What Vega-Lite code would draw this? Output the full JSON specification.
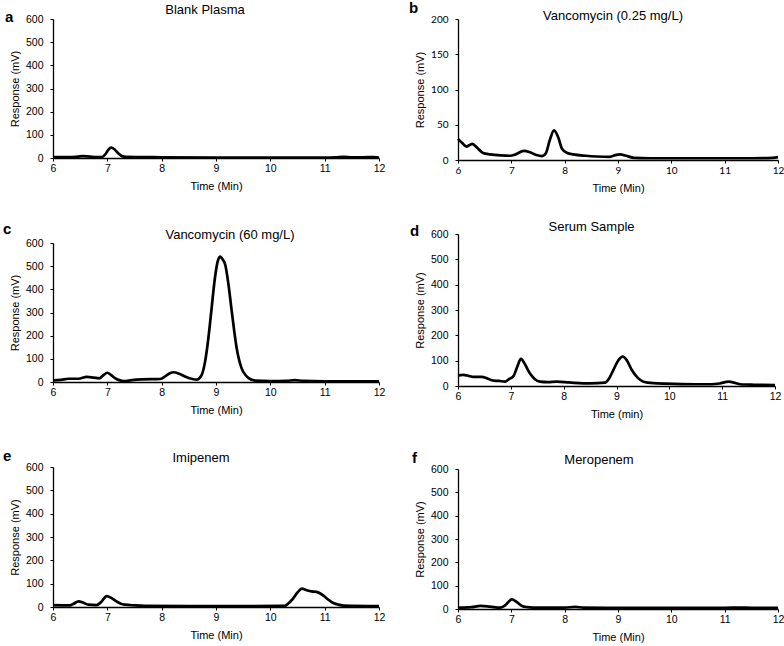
{
  "$schema": "https://vega.github.io/schema/vega-lite/v6.json",
  "padding": {"left": 3, "top": 1, "right": 0, "bottom": 0},
  "background": "white",
  "datasets": {
    "a": [{"t":6,"v":4},{"t":6.3,"v":4},{"t":6.45,"v":6},{"t":6.55,"v":8},{"t":6.68,"v":6},{"t":6.8,"v":4},{"t":6.9,"v":4},{"t":6.96,"v":15},{"t":7.02,"v":36},{"t":7.07,"v":45},{"t":7.13,"v":38},{"t":7.2,"v":20},{"t":7.27,"v":8},{"t":7.35,"v":5},{"t":7.6,"v":4},{"t":8,"v":3},{"t":9,"v":2},{"t":10,"v":2},{"t":11,"v":2},{"t":11.2,"v":3},{"t":11.35,"v":5},{"t":11.5,"v":3},{"t":11.7,"v":3},{"t":11.9,"v":4},{"t":12,"v":2}],
    "b": [{"t":6,"v":30},{"t":6.08,"v":24},{"t":6.16,"v":19},{"t":6.27,"v":23},{"t":6.35,"v":18},{"t":6.47,"v":10},{"t":6.6,"v":8},{"t":6.8,"v":6.5},{"t":6.98,"v":6},{"t":7.08,"v":8},{"t":7.23,"v":13},{"t":7.35,"v":11},{"t":7.47,"v":7},{"t":7.57,"v":5.5},{"t":7.65,"v":10},{"t":7.72,"v":28},{"t":7.8,"v":42},{"t":7.88,"v":32},{"t":7.95,"v":16},{"t":8.05,"v":10},{"t":8.16,"v":8},{"t":8.4,"v":6},{"t":8.6,"v":5},{"t":8.85,"v":4.5},{"t":8.95,"v":7},{"t":9.04,"v":8},{"t":9.15,"v":6},{"t":9.3,"v":3},{"t":9.6,"v":2.5},{"t":10,"v":2.5},{"t":10.5,"v":2.5},{"t":11,"v":2.5},{"t":11.5,"v":2.5},{"t":11.9,"v":3},{"t":12,"v":4}],
    "c": [{"t":6,"v":7},{"t":6.15,"v":9},{"t":6.28,"v":14},{"t":6.47,"v":14},{"t":6.62,"v":22},{"t":6.75,"v":19},{"t":6.85,"v":16},{"t":6.93,"v":30},{"t":7.0,"v":40},{"t":7.07,"v":30},{"t":7.14,"v":17},{"t":7.22,"v":8},{"t":7.3,"v":4},{"t":7.45,"v":8},{"t":7.63,"v":11},{"t":7.97,"v":13},{"t":8.05,"v":22},{"t":8.15,"v":38},{"t":8.22,"v":42},{"t":8.32,"v":36},{"t":8.43,"v":24},{"t":8.55,"v":14},{"t":8.65,"v":10},{"t":8.7,"v":18},{"t":8.74,"v":32},{"t":8.8,"v":89},{"t":8.86,"v":190},{"t":8.92,"v":320},{"t":8.98,"v":449},{"t":9.04,"v":528},{"t":9.08,"v":541},{"t":9.12,"v":530},{"t":9.17,"v":506},{"t":9.23,"v":420},{"t":9.29,"v":305},{"t":9.38,"v":147},{"t":9.47,"v":60},{"t":9.55,"v":28},{"t":9.6,"v":17},{"t":9.72,"v":6},{"t":10,"v":4},{"t":10.3,"v":5},{"t":10.45,"v":8},{"t":10.6,"v":5},{"t":11,"v":3},{"t":11.5,"v":3},{"t":12,"v":3}],
    "d": [{"t":6,"v":42},{"t":6.1,"v":44},{"t":6.2,"v":40},{"t":6.29,"v":36},{"t":6.45,"v":36},{"t":6.55,"v":30},{"t":6.67,"v":21},{"t":6.78,"v":20},{"t":6.89,"v":17},{"t":6.97,"v":28},{"t":7.05,"v":39},{"t":7.12,"v":75},{"t":7.19,"v":107},{"t":7.27,"v":85},{"t":7.36,"v":50},{"t":7.45,"v":28},{"t":7.55,"v":17},{"t":7.7,"v":15},{"t":7.87,"v":17},{"t":8.1,"v":14},{"t":8.5,"v":10},{"t":8.78,"v":13},{"t":8.86,"v":30},{"t":8.94,"v":63},{"t":9.03,"v":100},{"t":9.12,"v":116},{"t":9.2,"v":100},{"t":9.29,"v":63},{"t":9.4,"v":33},{"t":9.51,"v":17},{"t":9.7,"v":11},{"t":9.95,"v":9},{"t":10.5,"v":7},{"t":10.8,"v":7},{"t":10.95,"v":10},{"t":11.12,"v":17},{"t":11.25,"v":12},{"t":11.34,"v":7},{"t":11.6,"v":5},{"t":12,"v":4}],
    "e": [{"t":6,"v":8},{"t":6.31,"v":7},{"t":6.38,"v":14},{"t":6.47,"v":24},{"t":6.56,"v":18},{"t":6.65,"v":10},{"t":6.8,"v":8},{"t":6.88,"v":20},{"t":6.99,"v":47},{"t":7.08,"v":38},{"t":7.17,"v":24},{"t":7.25,"v":14},{"t":7.33,"v":10},{"t":7.5,"v":7},{"t":7.69,"v":5},{"t":8.5,"v":4},{"t":9.5,"v":4},{"t":10.27,"v":5},{"t":10.33,"v":15},{"t":10.4,"v":31},{"t":10.5,"v":62},{"t":10.58,"v":79},{"t":10.67,"v":72},{"t":10.76,"v":67},{"t":10.85,"v":65},{"t":10.92,"v":58},{"t":11.0,"v":45},{"t":11.07,"v":31},{"t":11.15,"v":18},{"t":11.25,"v":10},{"t":11.35,"v":6},{"t":11.5,"v":5},{"t":12,"v":4}],
    "f": [{"t":6,"v":6},{"t":6.25,"v":8},{"t":6.42,"v":13},{"t":6.6,"v":10},{"t":6.79,"v":6},{"t":6.88,"v":15},{"t":7.01,"v":41},{"t":7.1,"v":30},{"t":7.2,"v":13},{"t":7.3,"v":8},{"t":7.39,"v":6},{"t":8.0,"v":6},{"t":8.2,"v":9},{"t":8.35,"v":6},{"t":9,"v":5},{"t":10,"v":5},{"t":11,"v":5},{"t":11.3,"v":6},{"t":11.5,"v":5},{"t":12,"v":5}]
  },
  "hconcat": [
    {
      "bounds": "flush",
      "spacing": 85,
      "vconcat": [
        {
          "width": 326, "height": 139,
          "title": {"text": "Blank Plasma", "offset": -7, "dx": -11},
          "layer": [
            {"data": {"name": "a"}, "mark": {"type": "line", "color": "black", "strokeWidth": 2.7, "interpolate": "monotone"},
             "encoding": {
               "x": {"field": "t", "type": "quantitative", "scale": {"domain": [6, 12], "nice": false}, "axis": {"values": [6,7,8,9,10,11,12], "format": "d", "title": "Time (Min)"}},
               "y": {"field": "v", "type": "quantitative", "scale": {"domain": [0, 600], "nice": false}, "axis": {"values": [0,100,200,300,400,500,600], "format": "d", "title": "Response (mV)"}}}},
            {"data": {"values": [{"label": "a"}]}, "mark": {"type": "text", "fontWeight": "bold", "fontSize": 15, "align": "left", "baseline": "middle", "dx": -48, "dy": -2, "color": "black"},
             "encoding": {
               "x": {"datum": 6, "type": "quantitative", "axis": {"values": [6,7,8,9,10,11,12], "format": "d", "title": "Time (Min)"}},
               "y": {"datum": 600, "type": "quantitative", "axis": {"values": [0,100,200,300,400,500,600], "format": "d", "title": "Response (mV)"}},
               "text": {"field": "label"}}}
          ]
        },
        {
          "width": 326, "height": 139,
          "title": {"text": "Vancomycin (60 mg/L)", "offset": -20, "dx": 14},
          "layer": [
            {"data": {"name": "c"}, "mark": {"type": "line", "color": "black", "strokeWidth": 2.7, "interpolate": "monotone"},
             "encoding": {
               "x": {"field": "t", "type": "quantitative", "scale": {"domain": [6, 12], "nice": false}, "axis": {"values": [6,7,8,9,10,11,12], "format": "d", "title": "Time (Min)"}},
               "y": {"field": "v", "type": "quantitative", "scale": {"domain": [0, 600], "nice": false}, "axis": {"values": [0,100,200,300,400,500,600], "format": "d", "title": "Response (mV)"}}}},
            {"data": {"values": [{"label": "c"}]}, "mark": {"type": "text", "fontWeight": "bold", "fontSize": 15, "align": "left", "baseline": "middle", "dx": -50, "dy": -14, "color": "black"},
             "encoding": {
               "x": {"datum": 6, "type": "quantitative", "axis": {"values": [6,7,8,9,10,11,12], "format": "d", "title": "Time (Min)"}},
               "y": {"datum": 600, "type": "quantitative", "axis": {"values": [0,100,200,300,400,500,600], "format": "d", "title": "Response (mV)"}},
               "text": {"field": "label"}}}
          ]
        },
        {
          "width": 326, "height": 140,
          "title": {"text": "Imipenem", "offset": -16, "dx": -15},
          "layer": [
            {"data": {"name": "e"}, "mark": {"type": "line", "color": "black", "strokeWidth": 2.7, "interpolate": "monotone"},
             "encoding": {
               "x": {"field": "t", "type": "quantitative", "scale": {"domain": [6, 12], "nice": false}, "axis": {"values": [6,7,8,9,10,11,12], "format": "d", "title": "Time (Min)"}},
               "y": {"field": "v", "type": "quantitative", "scale": {"domain": [0, 600], "nice": false}, "axis": {"values": [0,100,200,300,400,500,600], "format": "d", "title": "Response (mV)"}}}},
            {"data": {"values": [{"label": "e"}]}, "mark": {"type": "text", "fontWeight": "bold", "fontSize": 15, "align": "left", "baseline": "middle", "dx": -50, "dy": -11, "color": "black"},
             "encoding": {
               "x": {"datum": 6, "type": "quantitative", "axis": {"values": [6,7,8,9,10,11,12], "format": "d", "title": "Time (Min)"}},
               "y": {"datum": 600, "type": "quantitative", "axis": {"values": [0,100,200,300,400,500,600], "format": "d", "title": "Response (mV)"}},
               "text": {"field": "label"}}}
          ]
        }
      ]
    },
    {
      "bounds": "flush",
      "spacing": 74,
      "vconcat": [
        {
          "width": 320, "height": 141,
          "layer": [
            {"data": {"name": "b"}, "mark": {"type": "line", "color": "black", "strokeWidth": 2.7, "interpolate": "monotone"},
             "encoding": {
               "x": {"field": "t", "type": "quantitative", "scale": {"domain": [6, 12], "nice": false}, "axis": {"values": [6,7,8,9,10,11,12], "format": "d", "title": "Time (Min)", "labelFont": "Lato", "labelFontSize": 10}},
               "y": {"field": "v", "type": "quantitative", "scale": {"domain": [0, 200], "nice": false}, "axis": {"values": [0,50,100,150,200], "format": "d", "title": "Response (mV)", "labelFont": "Lato", "labelFontSize": 10}}}},
            {"data": {"values": [{"label": "b"}]}, "mark": {"type": "text", "fontWeight": "bold", "fontSize": 15, "align": "left", "baseline": "middle", "dx": -49, "dy": -11, "color": "black"},
             "encoding": {
               "x": {"datum": 6, "type": "quantitative", "axis": {"values": [6,7,8,9,10,11,12], "format": "d", "title": "Time (Min)", "labelFont": "Lato", "labelFontSize": 10}},
               "y": {"datum": 200, "type": "quantitative", "axis": {"values": [0,50,100,150,200], "format": "d", "title": "Response (mV)", "labelFont": "Lato", "labelFontSize": 10}},
               "text": {"field": "label"}}},
            {"data": {"values": [{"label": "Vancomycin (0.25 mg/L)"}]}, "mark": {"type": "text", "fontSize": 13, "align": "center", "baseline": "middle", "dx": -5, "dy": -3, "color": "black"},
             "encoding": {
               "x": {"datum": 9, "type": "quantitative", "axis": {"values": [6,7,8,9,10,11,12], "format": "d", "title": "Time (Min)", "labelFont": "Lato", "labelFontSize": 10}},
               "y": {"datum": 200, "type": "quantitative", "axis": {"values": [0,50,100,150,200], "format": "d", "title": "Response (mV)", "labelFont": "Lato", "labelFontSize": 10}},
               "text": {"field": "label"}}}
          ]
        },
        {
          "bounds": "flush",
          "spacing": 83,
          "vconcat": [
            {
              "width": 317, "height": 152,
              "title": {"text": "Serum Sample", "offset": -10, "dx": -25},
              "layer": [
                {"data": {"name": "d"}, "mark": {"type": "line", "color": "black", "strokeWidth": 2.7, "interpolate": "monotone"},
                 "encoding": {
                   "x": {"field": "t", "type": "quantitative", "scale": {"domain": [6, 12], "nice": false}, "axis": {"values": [6,7,8,9,10,11,12], "format": "d", "title": "Time (min)"}},
                   "y": {"field": "v", "type": "quantitative", "scale": {"domain": [0, 600], "nice": false}, "axis": {"values": [0,100,200,300,400,500,600], "format": "d", "title": "Response (mV)"}}}},
                {"data": {"values": [{"label": "d"}]}, "mark": {"type": "text", "fontWeight": "bold", "fontSize": 15, "align": "left", "baseline": "middle", "dx": -48, "dy": -3, "color": "black"},
                 "encoding": {
                   "x": {"datum": 6, "type": "quantitative", "axis": {"values": [6,7,8,9,10,11,12], "format": "d", "title": "Time (min)"}},
                   "y": {"datum": 600, "type": "quantitative", "axis": {"values": [0,100,200,300,400,500,600], "format": "d", "title": "Response (mV)"}},
                   "text": {"field": "label"}}}
              ]
            },
            {
              "width": 320, "height": 140,
              "title": {"text": "Meropenem", "offset": -16, "dx": -19},
              "layer": [
                {"data": {"name": "f"}, "mark": {"type": "line", "color": "black", "strokeWidth": 2.7, "interpolate": "monotone"},
                 "encoding": {
                   "x": {"field": "t", "type": "quantitative", "scale": {"domain": [6, 12], "nice": false}, "axis": {"values": [6,7,8,9,10,11,12], "format": "d", "title": "Time (Min)"}},
                   "y": {"field": "v", "type": "quantitative", "scale": {"domain": [0, 600], "nice": false}, "axis": {"values": [0,100,200,300,400,500,600], "format": "d", "title": "Response (mV)"}}}},
                {"data": {"values": [{"label": "f"}]}, "mark": {"type": "text", "fontWeight": "bold", "fontSize": 15, "align": "left", "baseline": "middle", "dx": -46, "dy": -11, "color": "black"},
                 "encoding": {
                   "x": {"datum": 6, "type": "quantitative", "axis": {"values": [6,7,8,9,10,11,12], "format": "d", "title": "Time (Min)"}},
                   "y": {"datum": 600, "type": "quantitative", "axis": {"values": [0,100,200,300,400,500,600], "format": "d", "title": "Response (mV)"}},
                   "text": {"field": "label"}}}
              ]
            }
          ]
        }
      ]
    }
  ],
  "spacing": 24,
  "config": {
    "view": {"stroke": null},
    "font": "Liberation Sans",
    "axis": {
      "grid": false, "domainColor": "black", "domainWidth": 1.3, "tickColor": "black", "tickSize": 3,
      "labelColor": "black", "titleColor": "black", "labelFont": "Liberation Sans", "titleFont": "Liberation Sans",
      "labelFontSize": 10.5, "titleFontSize": 11, "titleFontWeight": "normal", "labelFlush": false, "labelOverlap": false
    },
    "axisY": {"labelPadding": 7, "titlePadding": 5},
    "axisX": {"labelPadding": 2, "titlePadding": 7},
    "title": {"fontSize": 13, "fontWeight": "normal", "font": "Liberation Sans", "color": "black", "frame": "group"},
    "text": {"font": "Liberation Sans"}
  }
}
